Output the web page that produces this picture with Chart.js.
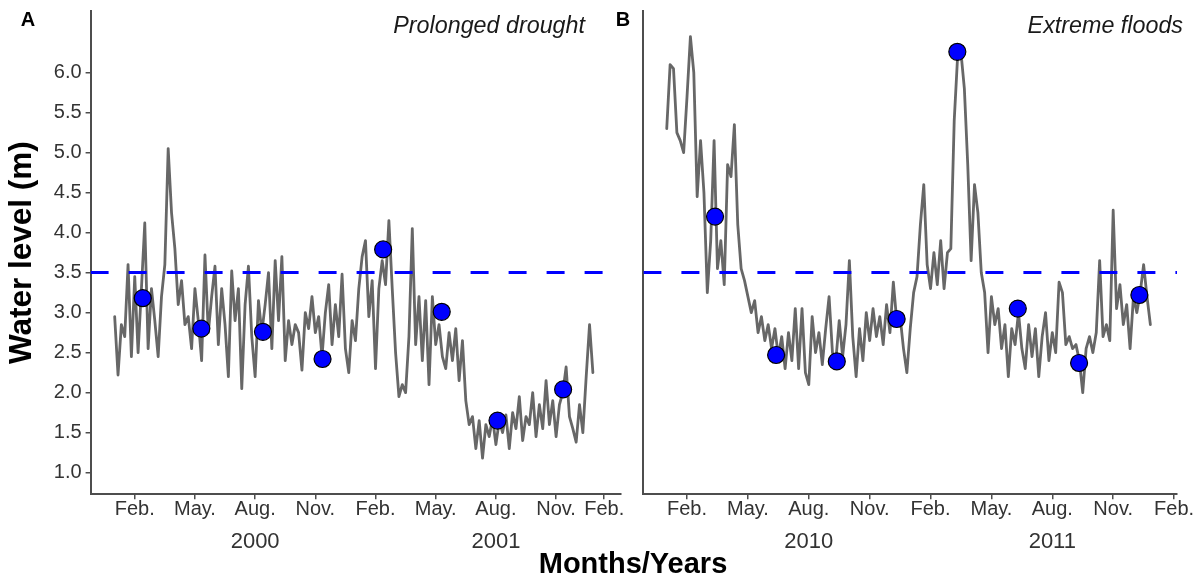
<!DOCTYPE html>
<html>
<head>
<meta charset="utf-8">
<title>Water level</title>
<script src="https://cdn.jsdelivr.net/npm/chart.js@4.4.1/dist/chart.umd.min.js"></script>
<style>
  body { margin: 0; background: #fff; }
  #figura { position: relative; width: 1200px; height: 579px; overflow: hidden; font-family: 'Liberation Sans', Arial, sans-serif; }
  #panelA { position: absolute; left: 0; top: 0; }
  #panelB { position: absolute; left: 600px; top: 0; }
  #tituloX { position: absolute; left: 433px; width: 400px; top: 548px; text-align: center; font-weight: bold; font-size: 29px; line-height: 30px; color: #000; }
</style>
</head>
<body>
<div id="figura">
  <canvas id="panelA" width="630" height="579"></canvas>
  <canvas id="panelB" width="600" height="579"></canvas>
  <div id="tituloX">Months/Years</div>
</div>
<script>
// Lecturas cada 1/6 de mes (unos 5 días), desde el 1 de enero del primer año
const pasoMes = 1 / 6;

// Nivel del agua (m), panel A: 2000-2001
const nivelA = [
  2.95, 2.22, 2.85, 2.70, 3.60, 2.45, 3.45, 2.50, 3.30, 4.12,
  2.55, 3.30, 2.90, 2.45, 3.20, 3.60, 5.05, 4.25, 3.80, 3.10,
  3.40, 2.85, 2.95, 2.55, 3.30, 2.90, 2.40, 3.72, 2.75, 3.20,
  3.58, 2.60, 3.30, 2.85, 2.20, 3.52, 2.90, 3.30, 2.05, 3.10,
  3.58, 2.70, 2.20, 3.15, 2.75, 3.10, 3.50, 2.55, 3.65, 2.90,
  3.70, 2.40, 2.90, 2.60, 2.85, 2.75, 2.28, 3.00, 2.80, 3.20,
  2.75, 2.95, 2.45, 3.00, 3.35, 2.60, 3.10, 2.70, 3.48, 2.55,
  2.25, 2.90, 2.65, 3.30, 3.70, 3.90, 2.95, 3.40, 2.30, 3.30,
  3.65, 3.35, 4.15, 3.30, 2.50, 1.95, 2.10, 2.00, 2.70, 4.05,
  2.60, 3.20, 2.40, 3.15, 2.10, 3.20, 2.60, 2.85, 2.45, 2.30,
  2.75, 2.40, 2.80, 2.15, 2.65, 1.90, 1.60, 1.70, 1.30, 1.65,
  1.18, 1.60, 1.45, 1.68, 1.35, 1.65, 1.50, 1.72, 1.30, 1.75,
  1.55, 1.95, 1.40, 1.70, 1.60, 2.00, 1.45, 1.85, 1.55, 2.15,
  1.60, 1.90, 1.45, 1.85, 2.00, 2.32, 1.70, 1.55, 1.38, 1.85,
  1.50, 2.20, 2.85, 2.25
];

// Nivel del agua (m), panel B: 2010-2011
const nivelB = [
  5.30, 6.10, 6.05, 5.25, 5.15, 5.00, 5.70, 6.45, 6.00, 4.45,
  5.15, 4.50, 3.25, 3.90, 5.15, 3.55, 3.90, 3.35, 4.85, 4.70,
  5.35, 4.10, 3.55, 3.40, 3.20, 3.00, 3.15, 2.75, 2.95, 2.65,
  2.85, 2.55, 2.80, 2.45, 2.70, 2.30, 2.75, 2.40, 3.05, 2.30,
  3.05, 2.25, 2.10, 2.95, 2.50, 2.75, 2.35, 2.80, 3.20, 2.50,
  2.40, 2.90, 2.45, 2.85, 3.65, 2.70, 2.20, 2.80, 2.40, 3.00,
  2.65, 3.05, 2.70, 2.95, 2.60, 3.10, 2.75, 3.38, 2.90, 2.95,
  2.55, 2.25, 2.80, 3.25, 3.45, 4.10, 4.60, 3.60, 3.30, 3.75,
  3.35, 3.90, 3.30, 3.75, 3.80, 5.40, 6.20, 6.25, 5.80, 4.85,
  3.65, 4.60, 4.25, 3.50, 3.25, 2.50, 3.20, 2.85, 3.05, 2.55,
  2.85, 2.20, 2.80, 2.60, 3.00, 2.55, 2.30, 2.85, 2.45, 2.80,
  2.20, 2.70, 3.00, 2.40, 2.75, 2.50, 3.38, 3.25, 2.60, 2.70,
  2.55, 2.60, 2.40, 2.00, 2.55, 2.70, 2.50, 2.75, 3.65, 2.70,
  2.85, 2.65, 4.28, 3.05, 3.35, 2.85, 3.10, 2.55, 3.20, 3.00,
  3.25, 3.60, 3.20, 2.85
];

// Muestreos (puntos azules): mes desde el 1 de enero y nivel
const mesesMuestraA = [1.40, 4.32, 7.39, 10.36, 13.38, 16.30, 19.08, 22.35];
const nivelMuestraA = [3.18, 2.80, 2.76, 2.42, 3.79, 3.01, 1.65, 2.04];
const mesesMuestraB = [2.38, 5.39, 8.38, 11.33, 14.32, 17.30, 20.32, 23.29];
const nivelMuestraB = [4.20, 2.47, 2.39, 2.92, 6.26, 3.05, 2.37, 3.22];

// Línea de referencia
const umbral = 3.5;

// Ejes
const mesesTicksA = [1, 4, 7, 10, 13, 16, 19, 22, 24.4];
const mesesTicksB = [1, 4, 7, 10, 13, 16, 19, 22, 25];
const etiquetasMes = ['Feb.', 'May.', 'Aug.', 'Nov.', 'Feb.', 'May.', 'Aug.', 'Nov.', 'Feb.'];
const mesesAnio = [7, 19];
const aniosA = ['2000', '2001'];
const aniosB = ['2010', '2011'];
const ticksNivel = [1.0, 1.5, 2.0, 2.5, 3.0, 3.5, 4.0, 4.5, 5.0, 5.5, 6.0];

const fuente = "'Liberation Sans', Arial, sans-serif";
const gris = '#4d4d4d';

// Letra del panel y nota en cursiva
const textosPanel = {
    id: 'textosPanel',
    afterDraw(chart, args, o) {
        const ctx = chart.ctx;
        ctx.save();
        ctx.textBaseline = 'middle';
        ctx.fillStyle = '#000';
        ctx.font = 'bold 20px ' + fuente;
        ctx.textAlign = 'center';
        ctx.fillText(o.letra, o.letraX, 20);
        ctx.font = 'italic 23.3px ' + fuente;
        ctx.textAlign = 'right';
        ctx.fillStyle = '#1a1a1a';
        ctx.fillText(o.nota, o.notaX, 27);
        ctx.restore();
    }
};

function crearPanel(id, p) {
    const linea = p.nivel.map((v, i) => ({ x: i * pasoMes, y: v }));
    const puntos = p.mesesMuestra.map((m, i) => ({ x: m, y: p.nivelMuestra[i] }));
    const corte = [{ x: p.xMin, y: umbral }, { x: p.xMax, y: umbral }];

    return new Chart(document.getElementById(id), {
        type: 'line',
        data: {
            datasets: [
                {
                    data: puntos, showLine: false, order: 0,
                    pointRadius: 8.5, pointBackgroundColor: '#0000ff',
                    pointBorderColor: '#000', pointBorderWidth: 1.2
                },
                {
                    data: corte, order: 1, pointRadius: 0,
                    borderColor: '#0000ff', borderWidth: 3, borderDash: [18, 20]
                },
                {
                    data: linea, order: 2, pointRadius: 0,
                    borderColor: '#676767', borderWidth: 2.8,
                    borderJoinStyle: 'round', borderCapStyle: 'round'
                }
            ]
        },
        options: {
            responsive: false,
            animation: false,
            devicePixelRatio: 1,
            events: [],
            layout: { padding: { top: 11, right: p.padDer, left: 0, bottom: 0 } },
            plugins: {
                legend: { display: false },
                tooltip: { enabled: false },
                textosPanel: { letra: p.letra, letraX: p.letraX, nota: p.nota, notaX: p.notaX }
            },
            scales: {
                x: {
                    type: 'linear', min: p.xMin, max: p.xMax, weight: 0,
                    afterBuildTicks: s => { s.ticks = p.mesesTicks.map(v => ({ value: v })); },
                    afterFit: s => { s.height = 37; },
                    ticks: {
                        autoSkip: false, maxRotation: 0, padding: 0, color: '#333',
                        font: { family: fuente, size: 20, lineHeight: 1 },
                        callback: (v, i) => etiquetasMes[i]
                    },
                    grid: { drawOnChartArea: false, tickLength: 5, color: gris, lineWidth: 1.5 },
                    border: { color: gris, width: 2 }
                },
                anio: {
                    type: 'linear', position: 'bottom', weight: 1, min: p.xMin, max: p.xMax,
                    afterBuildTicks: s => { s.ticks = mesesAnio.map(v => ({ value: v })); },
                    afterFit: s => { s.height = 47.8; },
                    ticks: {
                        autoSkip: false, maxRotation: 0, padding: 0, color: '#333',
                        font: { family: fuente, size: 22, lineHeight: 1 },
                        callback: (v, i) => p.anios[i]
                    },
                    grid: { display: false, drawTicks: false },
                    border: { display: false }
                },
                y: {
                    min: 0.73, max: 6.77,
                    afterBuildTicks: s => { s.ticks = ticksNivel.map(v => ({ value: v })); },
                    afterFit: s => {
                        s.width = p.anchoY;
                        s.paddingTop = 0;
                        s.paddingBottom = 0;
                    },
                    ticks: {
                        display: p.conEtiquetas, padding: 4, color: '#333',
                        font: { family: fuente, size: 20 },
                        callback: v => v.toFixed(1)
                    },
                    grid: { display: p.conEtiquetas, drawOnChartArea: false, tickLength: 5, color: gris, lineWidth: 1.5 },
                    border: { color: gris, width: 2 },
                    title: {
                        display: p.conEtiquetas, text: 'Water level (m)', color: '#000',
                        font: { family: fuente, size: 31.5, weight: 'bold' },
                        padding: { top: 3, bottom: 0 }
                    }
                }
            }
        },
        plugins: [textosPanel]
    });
}

// Panel A: sequía prolongada
crearPanel('panelA', {
    nivel: nivelA, mesesMuestra: mesesMuestraA, nivelMuestra: nivelMuestraA,
    mesesTicks: mesesTicksA, anios: aniosA,
    xMin: -1.2, xMax: 25.2, padDer: 6.4, anchoY: 90.6, conEtiquetas: true,
    letra: 'A', letraX: 28, nota: 'Prolonged drought', notaX: 585
});

// Panel B: inundaciones extremas
crearPanel('panelB', {
    nivel: nivelB, mesesMuestra: mesesMuestraB, nivelMuestra: nivelMuestraB,
    mesesTicks: mesesTicksB, anios: aniosB,
    xMin: -1.15, xMax: 25.15, padDer: 22.9, anchoY: 43.4, conEtiquetas: false,
    letra: 'B', letraX: 23, nota: 'Extreme floods', notaX: 583
});
</script>
</body>
</html>
